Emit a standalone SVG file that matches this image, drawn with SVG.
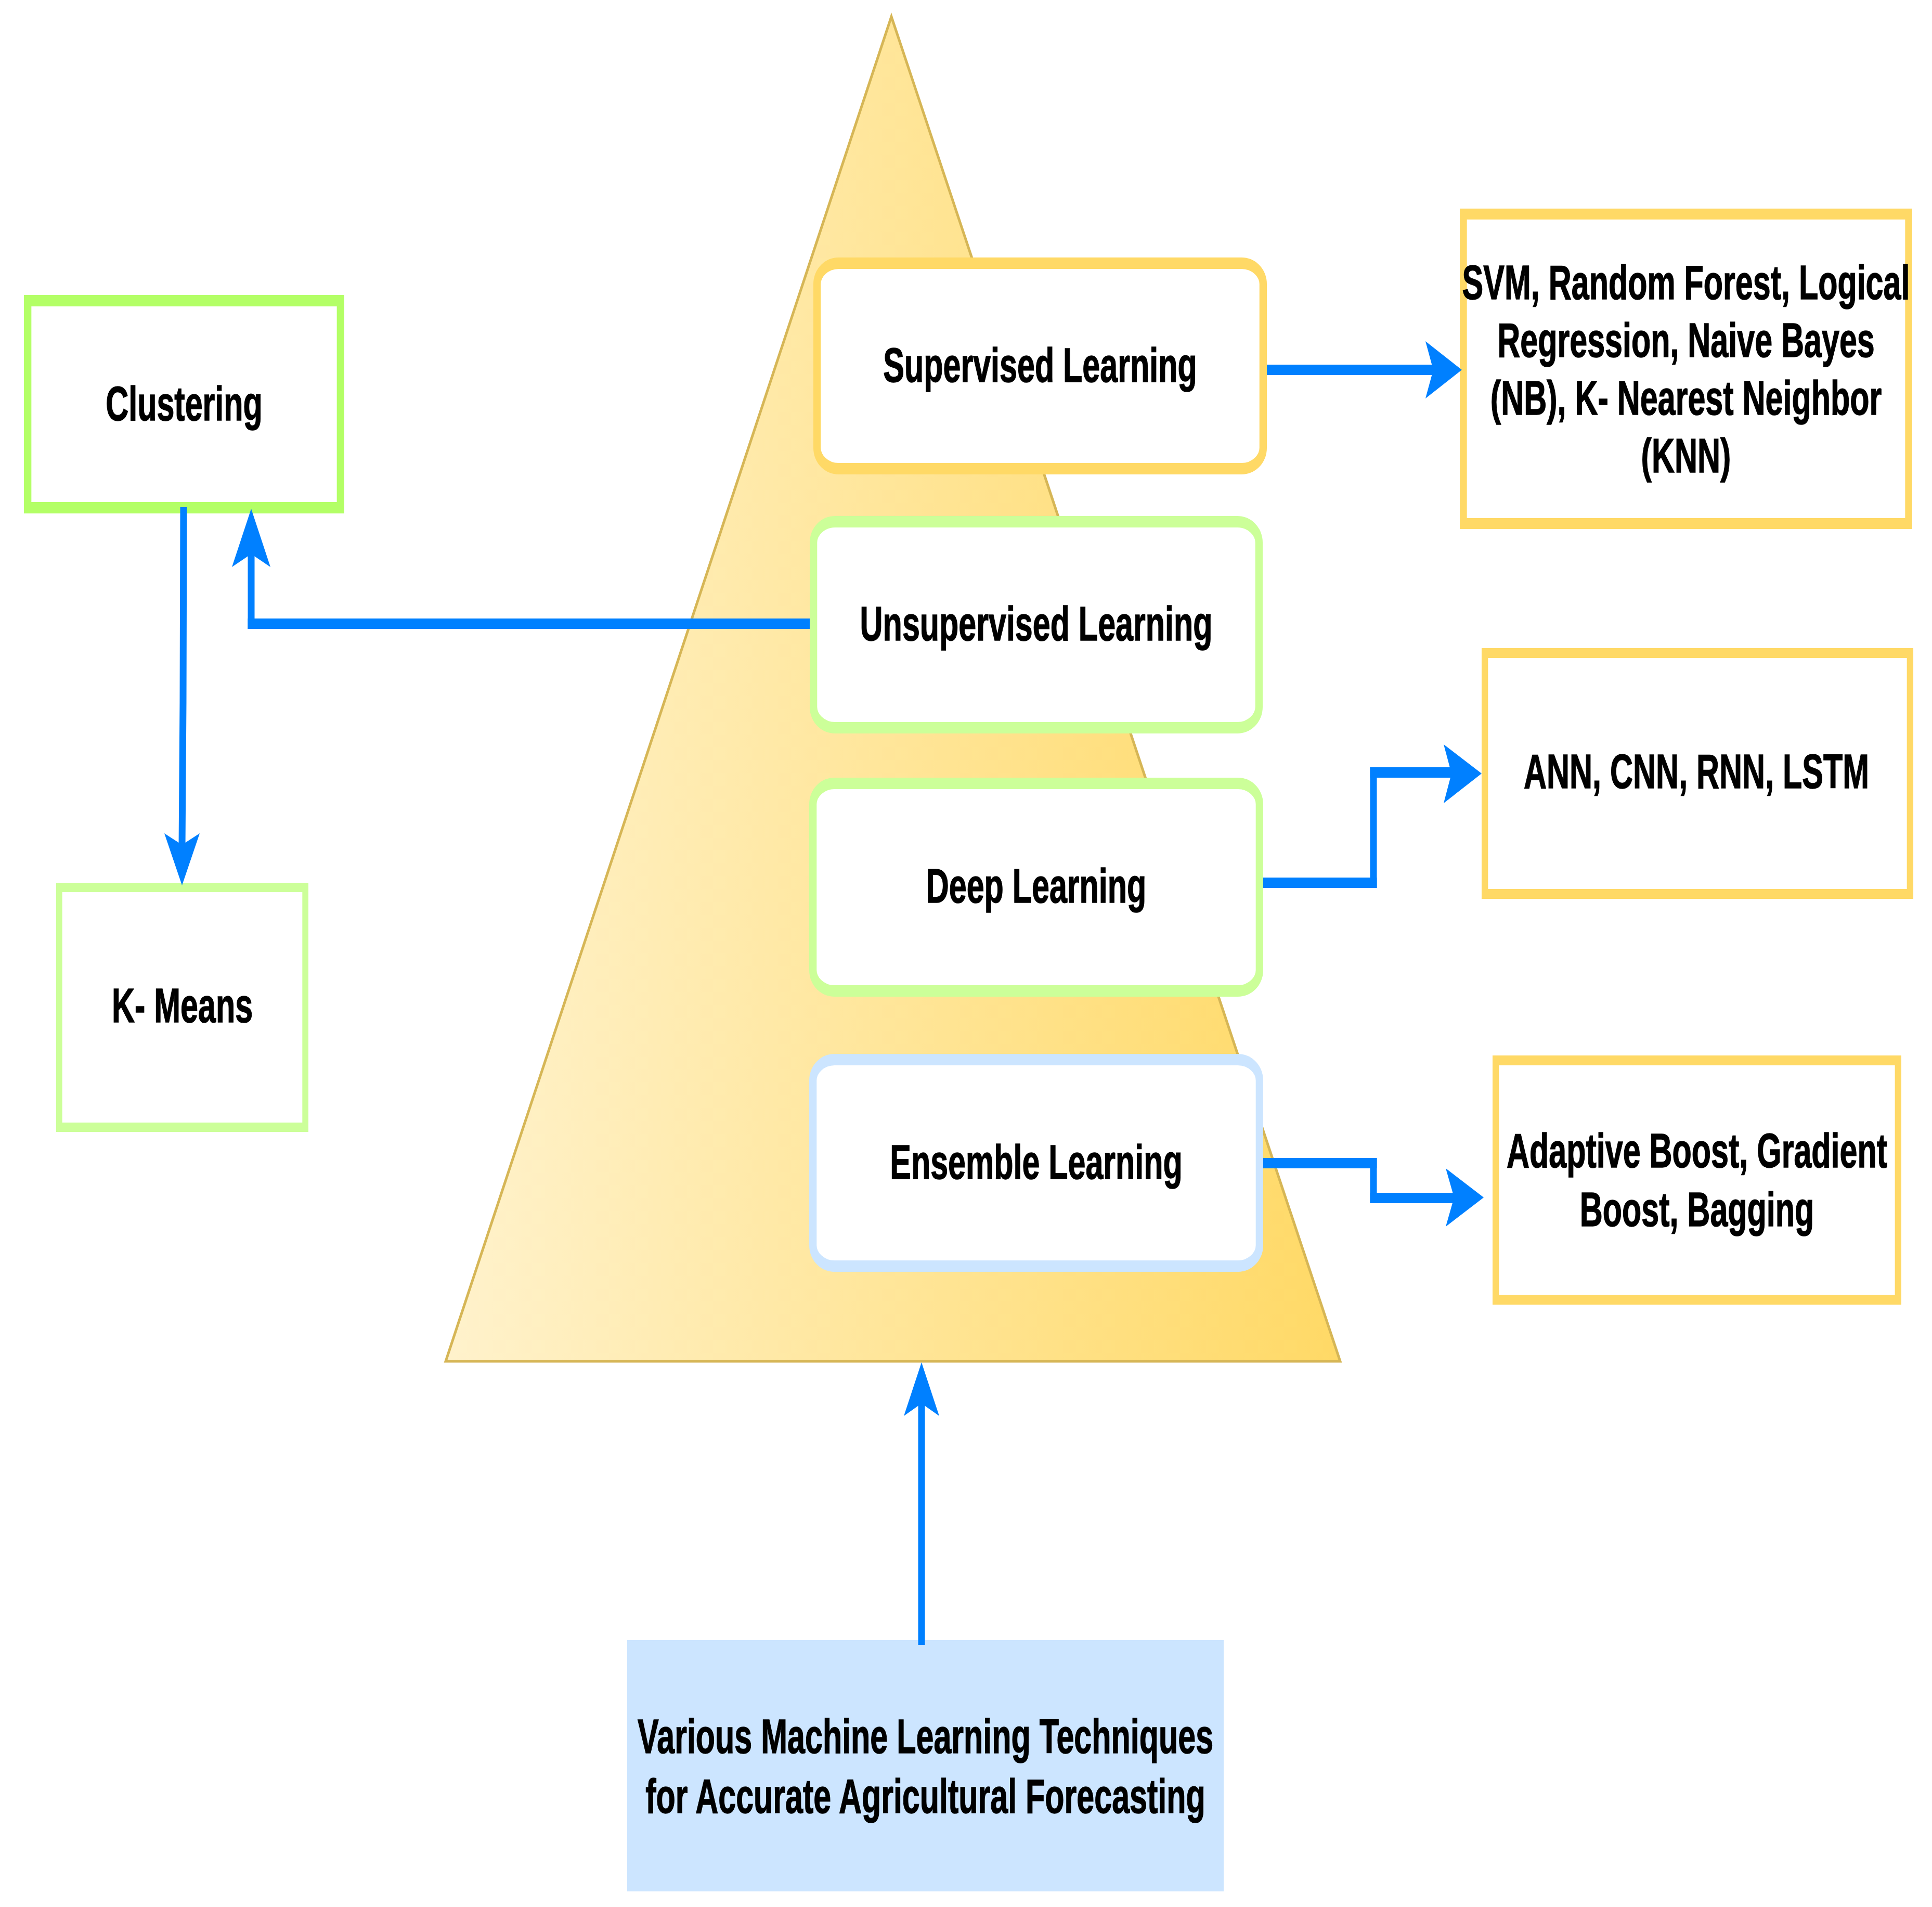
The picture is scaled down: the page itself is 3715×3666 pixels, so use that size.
<svg xmlns="http://www.w3.org/2000/svg" width="3715" height="3666" viewBox="0 0 3715 3666">
  <defs>
    <linearGradient id="triGrad" gradientUnits="userSpaceOnUse" x1="857" y1="0" x2="2577" y2="0">
      <stop offset="0" stop-color="#FFF2CC"/>
      <stop offset="1" stop-color="#FFD966"/>
    </linearGradient>
  </defs>
  <style>
    .lbl { font-family: "Liberation Sans", Arial, Helvetica, sans-serif; font-weight: bold; font-size: 92px; fill: #000000; text-anchor: middle; stroke: #000000; stroke-width: 1.5px; }
    .box { fill: #FFFFFF; }
    .g1 { stroke: #B3FF66; }
    .g2 { stroke: #CCFF99; }
    .y1 { stroke: #FFD966; }
    .b1 { stroke: #CCE5FF; }
    .conn { fill: none; stroke: #0080FF; stroke-linecap: butt; stroke-linejoin: miter; }
    .h { stroke-width: 20; }
    .v { stroke-width: 13; }
    .head { fill: #0080FF; stroke: none; }
  </style>
  <rect x="0" y="0" width="3715" height="3666" fill="#FFFFFF"/>

  <g id="pyramid">
    <polygon points="1714,32 857,2617 2577,2617" fill="url(#triGrad)" stroke="#D6B656" stroke-width="5" stroke-linejoin="miter"/>
  </g>

  <g id="clustering" transform="translate(354,777) scale(0.65,1)">
    <rect class="box g1" x="-462.8" y="-199" width="925.6" height="398" stroke-width="22"/>
    <text class="lbl" x="0" y="31" transform="scale(1.02,1)">Clustering</text>
  </g>

  <g id="kmeans" transform="translate(350.5,1936.5) scale(0.65,1)">
    <rect class="box g2" x="-364.1" y="-230.5" width="728.2" height="461" stroke-width="18"/>
    <text class="lbl" x="0" y="28" transform="scale(1.02,1)">K- Means</text>
  </g>

  <g id="supervised" transform="translate(2000,703.5) scale(0.65,1)">
    <rect class="box y1" x="-659.8" y="-197.5" width="1319.6" height="395" rx="64" ry="40" stroke-width="22"/>
    <text class="lbl" x="0" y="30" transform="scale(1.02,1)">Supervised Learning</text>
  </g>

  <g id="unsupervised" transform="translate(1992.5,1201) scale(0.65,1)">
    <rect class="box g2" x="-659" y="-198" width="1318" height="396" rx="64" ry="40" stroke-width="22"/>
    <text class="lbl" x="0" y="30" transform="scale(1.02,1)">Unsupervised Learning</text>
  </g>

  <g id="deep" transform="translate(1992.5,1705.5) scale(0.65,1)">
    <rect class="box g2" x="-660.5" y="-199.5" width="1321" height="399" rx="64" ry="40" stroke-width="22"/>
    <text class="lbl" x="0" y="29" transform="scale(1.02,1)">Deep Learning</text>
  </g>

  <g id="ensemble" transform="translate(1992.5,2235.5) scale(0.65,1)">
    <rect class="box b1" x="-660.5" y="-198.5" width="1321" height="397" rx="64" ry="40" stroke-width="22"/>
    <text class="lbl" x="0" y="30" transform="scale(1.02,1)">Ensemble Learning</text>
  </g>

  <g id="supervised-methods" transform="translate(3242,709) scale(0.65,1)">
    <rect class="box y1" x="-658.7" y="-297.5" width="1317.4" height="595" stroke-width="21"/>
    <text class="lbl" x="0" y="-134" transform="scale(1.02,1)">SVM, Random Forest, Logical</text>
    <text class="lbl" x="0" y="-23" transform="scale(1.02,1)">Regression, Naive Bayes</text>
    <text class="lbl" x="0" y="88" transform="scale(1.02,1)">(NB), K- Nearest Neighbor</text>
    <text class="lbl" x="0" y="199" transform="scale(1.02,1)">(KNN)</text>
  </g>

  <g id="deep-methods" transform="translate(3264,1487) scale(0.65,1)">
    <rect class="box y1" x="-629" y="-231.5" width="1258" height="463" stroke-width="19"/>
    <text class="lbl" x="-3" y="28" transform="scale(1.02,1)">ANN, CNN, RNN, LSTM</text>
  </g>

  <g id="ensemble-methods" transform="translate(3263,2268.5) scale(0.65,1)">
    <rect class="box y1" x="-595.1" y="-230" width="1190.2" height="460" stroke-width="19"/>
    <text class="lbl" x="0" y="-24.5" transform="scale(1.02,1)">Adaptive Boost, Gradient</text>
    <text class="lbl" x="0" y="88.5" transform="scale(1.02,1)">Boost, Bagging</text>
  </g>

  <g id="techniques" transform="translate(1779.5,3394.5) scale(0.65,1)">
    <rect x="-882.3" y="-241.5" width="1764.6" height="483" fill="#CCE5FF" stroke="none"/>
    <text class="lbl" x="0" y="-24.5" transform="scale(1.02,1)">Various Machine Learning Techniques</text>
    <text class="lbl" x="0" y="90.5" transform="scale(1.02,1)">for Accurate Agricultural Forecasting</text>
  </g>

  <g id="connectors">
    <!-- Supervised -> SVM box -->
    <line class="conn h" x1="2436" y1="711" x2="2760" y2="711"/>
    <polygon class="head" points="2811,711 2741,656 2756,711 2741,766"/>

    <!-- Unsupervised -> Clustering -->
    <line class="conn h" x1="1557" y1="1199" x2="476.5" y2="1199"/>
    <line class="conn v" x1="483" y1="1209" x2="483" y2="1062"/>
    <polygon class="head" points="483,978 520,1090 483,1065 446,1090"/>

    <!-- Clustering -> K-Means -->
    <path class="conn v" d="M353,975 L352,1350 L350,1628"/>
    <polygon class="head" points="350,1702 384,1602 350,1624 316,1602"/>

    <!-- Deep -> ANN box -->
    <line class="conn h" x1="2429" y1="1697" x2="2647.5" y2="1697"/>
    <line class="conn v" x1="2641" y1="1707" x2="2641" y2="1475"/>
    <line class="conn h" x1="2634.5" y1="1485" x2="2794" y2="1485"/>
    <polygon class="head" points="2849,1487 2776,1431 2791,1487 2776,1544"/>

    <!-- Ensemble -> Adaptive box -->
    <line class="conn h" x1="2429" y1="2236" x2="2647.5" y2="2236"/>
    <line class="conn v" x1="2641" y1="2226" x2="2641" y2="2313"/>
    <line class="conn h" x1="2634.5" y1="2303" x2="2798" y2="2303"/>
    <polygon class="head" points="2853,2302 2780,2246 2796,2302 2780,2358"/>

    <!-- Techniques -> Pyramid -->
    <line class="conn v" x1="1772" y1="3162" x2="1772" y2="2694"/>
    <polygon class="head" points="1772,2619 1806,2722 1772,2698 1738,2722"/>
  </g>
</svg>
